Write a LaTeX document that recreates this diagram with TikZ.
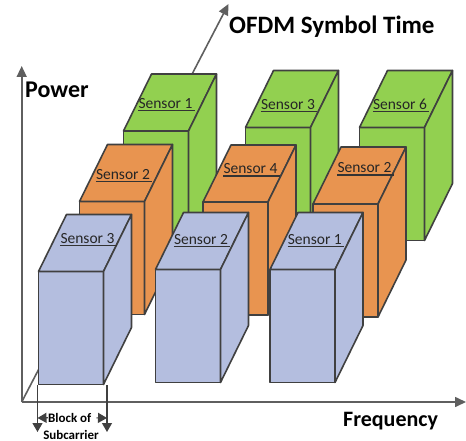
\documentclass[tikz,border=0pt]{standalone}
\usepackage{fontspec}
\setmainfont{Carlito}
\usetikzlibrary{arrows.meta}

\definecolor{sensorgreen}{RGB}{146,208,80}
\definecolor{sensororange}{RGB}{232,148,80}
\definecolor{sensorblue}{RGB}{180,190,223}
\definecolor{edgegray}{RGB}{64,64,64}
\definecolor{axisgray}{RGB}{95,95,95}

\newcommand{\boxw}{65}
\newcommand{\boxh}{113}
\newcommand{\boxdx}{28}
\newcommand{\boxdy}{57}

% #1 x, #2 y of the front top-left corner, #3 colour
\newcommand{\sensorbox}[3]{%
  \draw[boxedge, fill=#3] (#1,#2) rectangle ++(\boxw,\boxh);
  \draw[boxedge, fill=#3] (#1,#2) -- ++(\boxdx,-\boxdy) -- ++(\boxw,0) -- ++(-\boxdx,\boxdy) -- cycle;
  \draw[boxedge, fill=#3] (#1+\boxw,#2) -- ++(\boxdx,-\boxdy) -- ++(0,\boxh) -- ++(-\boxdx,\boxdy) -- cycle;
}
% #1 name, #2 x, #3 baseline y, #4 text
\newcommand{\sensorlabel}[4]{%
  \node[labeltext] (#1) at (#2,#3) {#4};
  \draw[underl] ([yshift=-2pt]#1.base west) -- ([yshift=-2pt,xshift=2pt]#1.base east);
}

\begin{document}
\begin{tikzpicture}[x=1pt, y=-1pt,
  boxedge/.style={draw=edgegray, line width=1.6pt, line join=round},
  axis/.style={draw=axisgray, line width=1.6pt, -{Triangle[length=11pt,width=10pt]}},
  labeltext/.style={inner sep=0pt, anchor=base, font=\fontsize{15.5}{18}\selectfont, text=black!85},
  underl/.style={draw=black!80, line width=1.3pt},
  axistitle/.style={inner sep=0pt, anchor=base west, font=\fontsize{#1}{#1}\selectfont\bfseries},
  blocktext/.style={inner sep=0pt, anchor=base, font=\fontsize{13}{15}\selectfont\bfseries},
  blockarrow/.style={draw=edgegray, line width=1.2pt, -{Triangle[length=9pt,width=10pt]}}]
\useasboundingbox (0,0) rectangle (466,441);

% Axes
\coordinate (origin) at (21.7,402);
\coordinate (powerend) at (21.7,66);
\coordinate (freqend) at (466,402);
\coordinate (timeend) at (228.5,4);
\draw[axis] (origin) -- (powerend);
\draw[axis] (origin) -- (freqend);
\draw[axis] (origin) -- (timeend);

\node[axistitle=25] (timetitle) at (229,33.5) {OFDM Symbol Time};
\node[axistitle=24] (powertitle) at (25,97.5) {Power};
\node[axistitle=22] (freqtitle) at (343,426.5) {Frequency};

% Back row
\sensorbox{123.5}{131}{sensorgreen}
\sensorbox{245.5}{127.5}{sensorgreen}
\sensorbox{359.5}{127.5}{sensorgreen}
% Middle row
\sensorbox{79.5}{201.5}{sensororange}
\sensorbox{203}{202}{sensororange}
\sensorbox{313}{204}{sensororange}
% Front row
\sensorbox{38.5}{271.5}{sensorblue}
\sensorbox{155.5}{269.5}{sensorblue}
\sensorbox{270}{269.5}{sensorblue}

% Labels
\sensorlabel{g1}{165.5}{108.5}{Sensor 1}
\sensorlabel{g2}{288}{109.5}{Sensor 3}
\sensorlabel{g3}{400}{109.5}{Sensor 6}
\sensorlabel{o1}{123}{179.5}{Sensor 2}
\sensorlabel{o2}{250.5}{174}{Sensor 4}
\sensorlabel{o3}{364.5}{173}{Sensor 2}
\sensorlabel{b1}{87.5}{243.5}{Sensor 3}
\sensorlabel{b2}{201}{244.5}{Sensor 2}
\sensorlabel{b3}{314.8}{244.5}{Sensor 1}

% Block of subcarrier
\coordinate (blocktopl) at (37.5,385);
\coordinate (blockbotl) at (37.5,432);
\coordinate (blocktopr) at (107,385);
\coordinate (blockbotr) at (107,432);
\draw[blockarrow] (blocktopl) -- (blockbotl);
\draw[blockarrow] (blocktopr) -- (blockbotr);
\node[blocktext] (blockof) at (69.7,422.3) {Block of};
\node[blocktext] (subcar) at (71,439) {Subcarrier};
\coordinate (blockl) at (37.5,418);
\coordinate (blockr) at (107,418);
\draw[blockarrow] (blockof.west) -- (blockl);
\draw[blockarrow, shorten <=5pt] (blockof.east) -- (blockr);

\end{tikzpicture}
\end{document}
